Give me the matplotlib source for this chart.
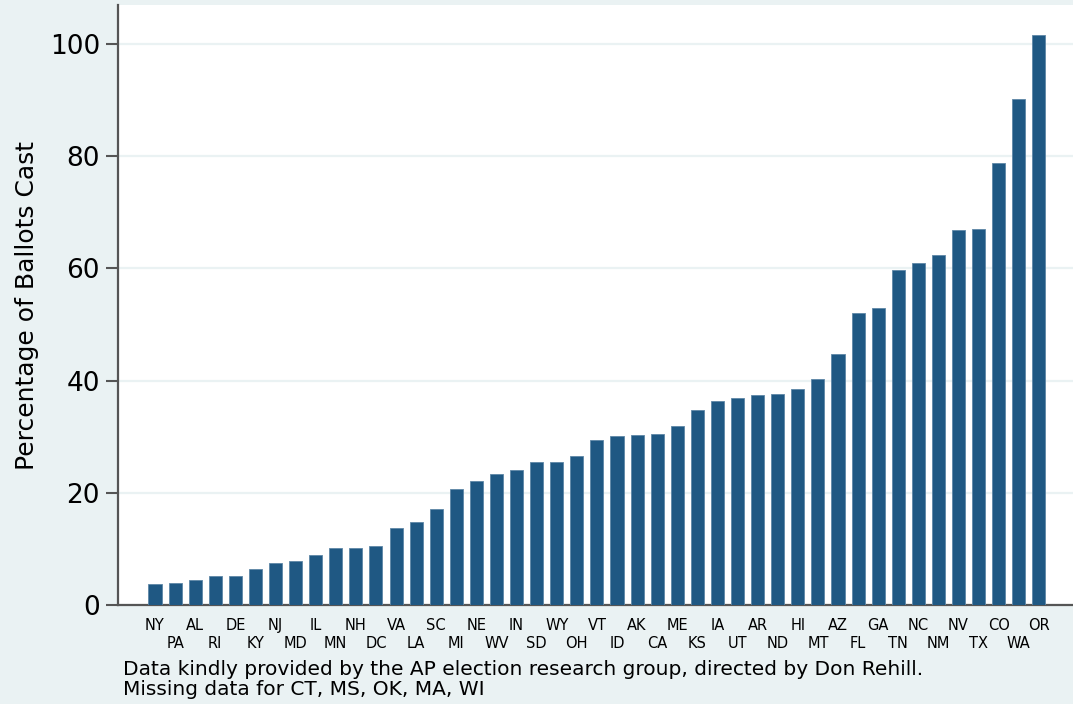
import numpy as np
import matplotlib
matplotlib.use("Agg")
from matplotlib import pyplot as plt

states = ["NY", "PA", "AL", "RI", "DE", "KY", "NJ", "MD", "IL", "MN", "NH", "DC",
          "VA", "LA", "SC", "MI", "NE", "WV", "IN", "SD", "WY", "OH", "VT", "ID",
          "AK", "CA", "ME", "KS", "IA", "UT", "AR", "ND", "HI", "MT", "AZ", "FL",
          "GA", "TN", "NC", "NM", "NV", "TX", "CO", "WA", "OR"]
pct = [3.7, 3.9, 4.4, 5.2, 5.2, 6.4, 7.5, 7.9, 8.9, 10.2, 10.2, 10.6,
       13.7, 14.8, 17.1, 20.7, 22.1, 23.3, 24.0, 25.5, 25.5, 26.5, 29.4, 30.1,
       30.3, 30.5, 31.9, 34.7, 36.4, 36.8, 37.4, 37.6, 38.5, 40.3, 44.7, 52.0,
       52.9, 59.7, 60.9, 62.4, 66.8, 67.0, 78.8, 90.1, 101.6]
yticks = [0, 20, 40, 60, 80, 100]

bg = "#eaf2f3"
navy = "#1f5883"

fig = plt.figure(figsize=(10.73, 7.04), dpi=100, facecolor=bg)
ax = fig.add_axes([0.110, 0.1406, 0.890, 0.8523])
ax.set_facecolor("white")

x = np.arange(len(states))
ax.bar(x, pct, width=0.65, color=navy, edgecolor="#5d86a6", linewidth=0.6, zorder=3)

ax.set_xlim(-1.84, len(states) - 1 + 1.7)
ax.set_ylim(0, 106.9)
ax.set_yticks(yticks)
ax.set_yticklabels([str(t) for t in yticks], fontsize=19)
ax.yaxis.grid(True, color=bg, linewidth=1.6, zorder=0)
ax.tick_params(axis="y", length=9, width=1.5, color="#555555", pad=4)

# staggered state labels: even ones on major ticks, odd ones on minor ticks
ax.set_xticks(x[::2])
ax.set_xticklabels(states[::2], fontsize=10.5)
ax.set_xticks(x[1::2], minor=True)
ax.set_xticklabels(states[1::2], minor=True, fontsize=10.5)
ax.tick_params(axis="x", which="major", length=0, pad=9)
ax.tick_params(axis="x", which="minor", length=0, pad=22)

for side in ["top", "right"]:
    ax.spines[side].set_visible(False)
for side in ["left", "bottom"]:
    ax.spines[side].set_color("#555555")
    ax.spines[side].set_linewidth(1.6)

ax.set_ylabel("Percentage of Ballots Cast", fontsize=18, labelpad=8)

fig.text(0.1145, 0.0415, "Data kindly provided by the AP election research group, directed by Don Rehill.",
         fontsize=14.5, va="baseline")
fig.text(0.1145, 0.0125, "Missing data for CT, MS, OK, MA, WI", fontsize=14.5, va="baseline")

fig.savefig("out.png", dpi=100, facecolor=bg)
